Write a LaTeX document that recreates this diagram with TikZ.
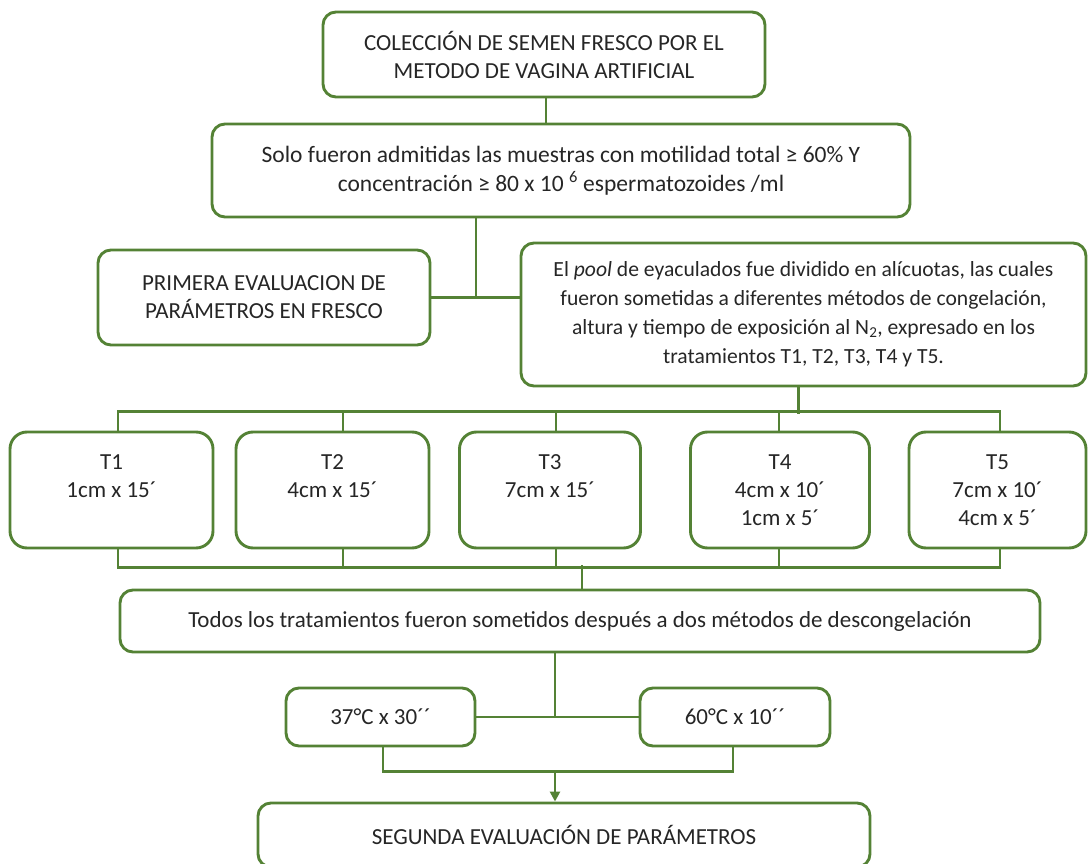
\documentclass[tikz,border=0pt]{standalone}
\usepackage{fontspec}
\setmainfont{Carlito}
\usetikzlibrary{calc,arrows.meta}
\definecolor{grn}{HTML}{548235}
\begin{document}
\begin{tikzpicture}[x=1pt,y=-1pt,
 box/.style={draw=grn, line width=2.9pt, rounded corners=13pt, align=center, inner sep=0pt,
   font=\fontsize{23}{28}\selectfont, text=black!85},
 tbox/.style={box, rounded corners=17pt, minimum height=116},
 ln/.style={draw=grn, line width=2.7pt}]
\useasboundingbox (0,0) rectangle (1088,864);
\node[box, minimum width=442, minimum height=85] (top) at (544,54.5) {COLECCIÓN DE SEMEN FRESCO POR EL\\METODO DE VAGINA ARTIFICIAL};
\node[box, minimum width=698, minimum height=93, font=\fontsize{23.5}{29}\selectfont] (b2) at (561,170.5) {Solo fueron admitidas las muestras con motilidad total ≥ 60\% Y\\concentración ≥ 80 x 10 \textsuperscript{6} espermatozoides /ml};
\node[box, minimum width=332, minimum height=95] (prim) at (264,297.5) {PRIMERA EVALUACION DE\\PARÁMETROS EN FRESCO};
\node[box, minimum width=565, minimum height=143, font=\fontsize{21.6}{29}\selectfont] (pool) at (803.5,314.5) {El \textit{pool} de eyaculados fue dividido en alícuotas, las cuales\\fueron sometidas a diferentes métodos de congelación,\\altura y tiempo de exposición al N\textsubscript{2}, expresado en los\\tratamientos T1, T2, T3, T4 y T5.};
\node[tbox, minimum width=203] (t1) at (111.5,490) {T1\\1cm x 15´\\\mbox{}};
\node[tbox, minimum width=193] (t2) at (332.5,490) {T2\\4cm x 15´\\\mbox{}};
\node[tbox, minimum width=181] (t3) at (550,490) {T3\\7cm x 15´\\\mbox{}};
\node[tbox, minimum width=179] (t4) at (780,490) {T4\\4cm x 10´\\1cm x 5´};
\node[tbox, minimum width=177] (t5) at (997.5,490) {T5\\7cm x 10´\\4cm x 5´};
\node[box, minimum width=920, minimum height=62] (todos) at (580,621) {Todos los tratamientos fueron sometidos después a dos métodos de descongelación};
\node[box, minimum width=189, minimum height=58] (c37) at (380.5,717) {37°C x 30´´};
\node[box, minimum width=190, minimum height=58] (c60) at (735,717) {60°C x 10´´};
\node[box, minimum width=612, minimum height=64] (seg) at (564,835) {SEGUNDA EVALUACIÓN DE PARÁMETROS};
% connectors
\coordinate (tp) at ($(top.south)+(2,0)$);
\draw[ln] (tp) -- (tp |- b2.north);
\coordinate (bd) at ($(b2.south)+(-85,0)$);
\draw[ln] (bd) -- (bd |- prim.east);
\draw[ln] (prim.east) -- (prim.east -| pool.west);
\coordinate (pd) at ($(pool.south)+(-5,0)$);
\draw[ln] (pd) -- ++(0,27);
\coordinate (a1) at ($(t1.north)+(6.5,0)$);
\coordinate (a2) at ($(t2.north)+(10.5,0)$);
\coordinate (a3) at ($(t3.north)+(6,0)$);
\coordinate (a4) at ($(t4.north)+(-1,0)$);
\coordinate (a5) at ($(t5.north)+(2.5,0)$);
\draw[ln] (a1) -- ++(0,-19) -| (a5);
\foreach \a in {a2,a3,a4} \draw[ln] (\a) -- ++(0,-19);
\coordinate (b1) at ($(t1.south)+(6.5,0)$);
\coordinate (bb2) at ($(t2.south)+(10.5,0)$);
\coordinate (b3) at ($(t3.south)+(6,0)$);
\coordinate (b4) at ($(t4.south)+(-1,0)$);
\coordinate (b5) at ($(t5.south)+(2.5,0)$);
\draw[ln] (b1) -- ++(0,18) -| (b5);
\foreach \b in {bb2,b3,b4} \draw[ln] (\b) -- ++(0,18);
\coordinate (td) at ($(todos.north)+(2,0)$);
\draw[ln] (td) -- ++(0,-24);
\coordinate (ts) at ($(todos.south)+(-25,0)$);
\draw[ln] (ts) -- (ts |- c37.east);
\draw[ln] (c37.east) -- (c60.west);
\coordinate (s37) at ($(c37.south)+(2.5,0)$);
\coordinate (s60) at ($(c60.south)+(-2,0)$);
\draw[ln] (s37) -- ++(0,24) -| (s60);
\coordinate (ar) at ($(s37)+(0,24)$);
\coordinate (arx) at (ar -| ts);
\draw[ln, -{Triangle[length=10pt,width=10pt]}] (arx) -- (arx |- seg.north);
\end{tikzpicture}
\end{document}
